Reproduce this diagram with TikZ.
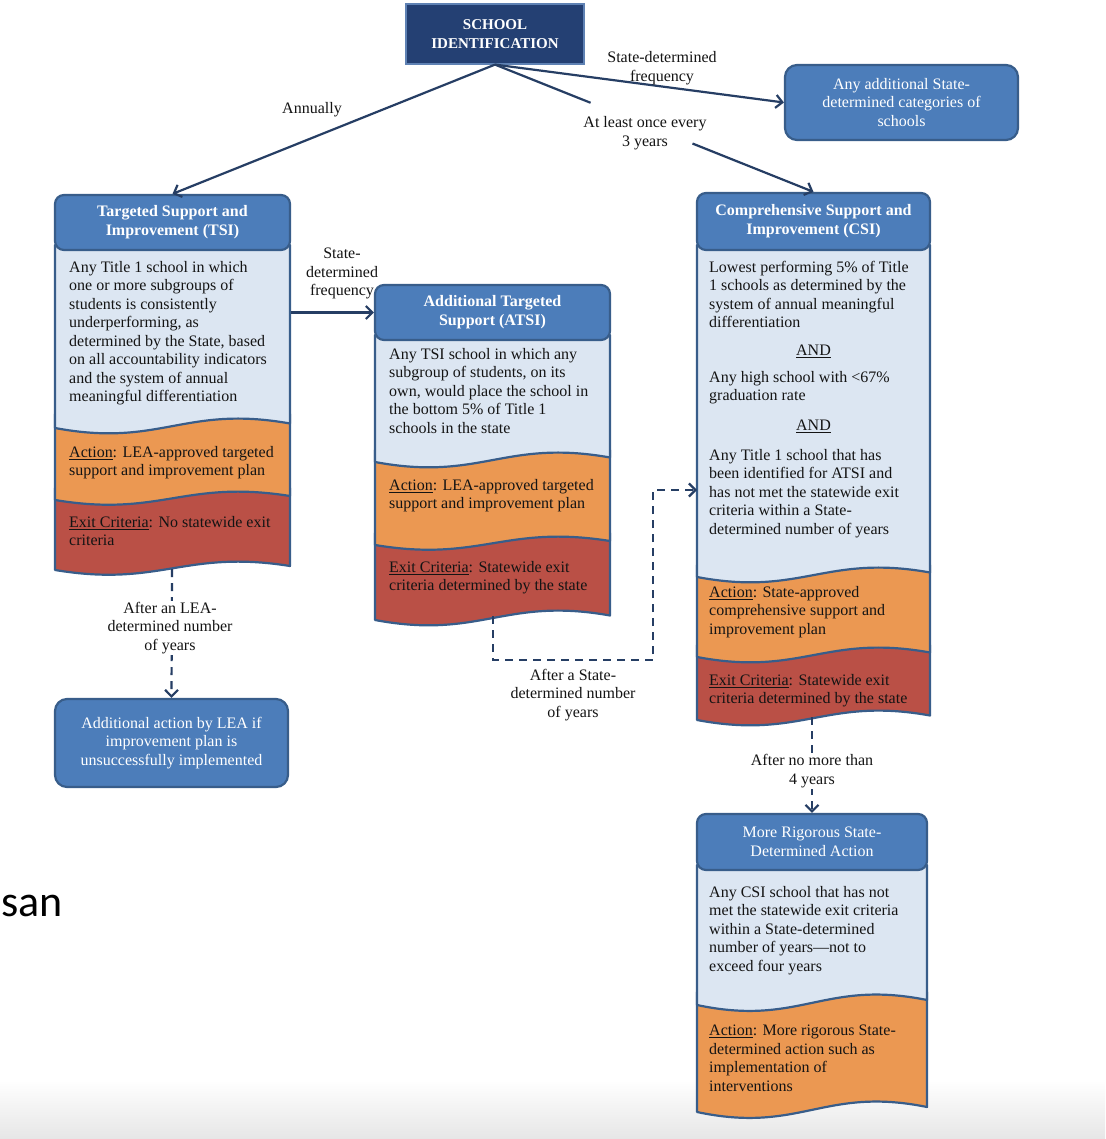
\documentclass[tikz,border=0pt]{standalone}
\usepackage{fontspec}
\setmainfont{Liberation Serif}
\newfontfamily\slidefont{Carlito}
\usetikzlibrary{arrows.meta,calc}

\definecolor{hdrblue}{RGB}{76,125,186}
\definecolor{edgeblue}{RGB}{56,93,138}
\definecolor{navybox}{RGB}{36,64,115}
\definecolor{navyedge}{RGB}{95,130,180}
\definecolor{bodyfill}{RGB}{220,230,242}
\definecolor{orangefill}{RGB}{235,152,82}
\definecolor{redfill}{RGB}{186,80,70}
\definecolor{linkcol}{RGB}{38,62,100}
\definecolor{txtcol}{RGB}{20,20,20}
\definecolor{shadegray}{RGB}{230,230,230}

\newcommand{\docshape}[6]{%
  \pgfmathsetmacro{\dw}{#2-#1}%
  \filldraw[secedge, fill=#6] (#1,#3) -- (#2,#3) -- (#2,{#4-0.5*#5})
    .. controls ({#1+0.55*\dw},{#4-2.6*#5}) and ({#1+0.45*\dw},{#4+2.2*#5}) .. (#1,#4) -- cycle;}

\tikzset{
  secedge/.style={draw=edgeblue, line width=2.2pt, line join=round},
  hdr/.style={draw=edgeblue, line width=2.2pt, fill=hdrblue, rounded corners=9pt, text=white,
    font=\bfseries\fontsize{16}{19}\selectfont, align=center, inner sep=0pt},
  bluebox/.style={draw=edgeblue, line width=2.2pt, fill=hdrblue, rounded corners=12pt, text=white,
    font=\fontsize{16}{18.7}\selectfont, align=center, inner sep=0pt},
  bodytxt/.style={anchor=north west, align=left, inner sep=0pt, text=txtcol,
    font=\fontsize{16}{18.5}\selectfont},
  andtxt/.style={anchor=north, align=center, inner sep=0pt, text=txtcol,
    font=\fontsize{16}{18.5}\selectfont},
  lbl/.style={align=center, inner sep=1.5pt, text=txtcol, font=\fontsize{16}{18.5}\selectfont},
  wlbl/.style={lbl, fill=white},
  link/.style={draw=linkcol, line width=2.2pt, -{Straight Barb[length=6.5pt,width=13pt]}},
  dlink/.style={link, dash pattern=on 8pt off 6pt},
}

\begin{document}
\begin{tikzpicture}[x=1pt,y=-1pt]
\useasboundingbox (0,0) rectangle (1105,1139);
\fill[white] (0,0) rectangle (1105,1139);
\shade[top color=white, bottom color=shadegray] (0,1080) rectangle (1105,1139);

% slide text fragment
\node[anchor=base west, inner sep=0pt, font=\slidefont\fontsize{44}{50}\selectfont] (slidefrag) at (1,916) {san};

% ---------- TSI column ----------
\docshape{55}{290}{488}{570}{8}{redfill}
\docshape{55}{290}{414}{500}{8}{orangefill}
\docshape{55}{290}{245}{428}{9}{bodyfill}
\node[hdr, minimum width=235, minimum height=55] (tsih) at (172.5,222.5) {Targeted Support and\\Improvement (TSI)};
\node[bodytxt] (tsibody) at (69,261) {Any Title 1 school in which\\one or more subgroups of\\students is consistently\\underperforming, as\\determined by the State, based\\on all accountability indicators\\and the system of annual\\meaningful differentiation};
\node[bodytxt] (tsiact) at (69,446) {\underline{Action}: LEA-approved targeted\\support and improvement plan};
\node[bodytxt] (tsiexit) at (69,516) {\underline{Exit Criteria}: No statewide exit\\criteria};
\coordinate (tsibot) at (172,569);

% ---------- ATSI column ----------
\docshape{375}{610}{533}{620}{9}{redfill}
\docshape{375}{610}{450}{545}{8}{orangefill}
\docshape{375}{610}{335}{462}{9}{bodyfill}
\node[hdr, minimum width=235, minimum height=55] (atsih) at (492.5,312.5) {Additional Targeted\\Support (ATSI)};
\node[bodytxt] (atsibody) at (389,348) {Any TSI school in which any\\subgroup of students, on its\\own, would place the school in\\the bottom 5\% of Title 1\\schools in the state};
\node[bodytxt] (atsiact) at (389,479) {\underline{Action}: LEA-approved targeted\\support and improvement plan};
\node[bodytxt] (atsiexit) at (389,561) {\underline{Exit Criteria}: Statewide exit\\criteria determined by the state};
\coordinate (atsibot) at (493,616);

% ---------- CSI column ----------
\docshape{697}{930}{645}{720}{9}{redfill}
\docshape{697}{930}{565}{657}{9}{orangefill}
\docshape{697}{930}{245}{577}{9}{bodyfill}
\node[hdr, minimum width=233, minimum height=57] (csih) at (813.5,221.5) {Comprehensive Support and\\Improvement (CSI)};
\node[bodytxt] (csib1) at (709,261) {Lowest performing 5\% of Title\\1 schools as determined by the\\system of annual meaningful\\differentiation};
\node[andtxt] (csiand1) at (813.5,345) {\underline{AND}};
\node[bodytxt] (csib2) at (709,371) {Any high school with <67\%\\graduation rate};
\node[andtxt] (csiand2) at (813.5,420) {\underline{AND}};
\node[bodytxt] (csib3) at (709,449) {Any Title 1 school that has\\been identified for ATSI and\\has not met the statewide exit\\criteria within a State-\\determined number of years};
\node[bodytxt] (csiact) at (709,586) {\underline{Action}: State-approved\\comprehensive support and\\improvement plan};
\node[bodytxt] (csiexit) at (709,674) {\underline{Exit Criteria}: Statewide exit\\criteria determined by the state};
\coordinate (csiin) at (697,490);
\coordinate (csibot) at (812,717);

% ---------- More rigorous column ----------
\docshape{697}{927}{992}{1112}{10}{orangefill}
\docshape{697}{927}{865}{1005}{10}{bodyfill}
\node[hdr, font=\fontsize{16}{19}\selectfont, minimum width=230, minimum height=56] (mrh) at (812,842) {More Rigorous State-\\Determined Action};
\node[bodytxt] (mrbody) at (709,886) {Any CSI school that has not\\met the statewide exit criteria\\within a State-determined\\number of years---not to\\exceed four years};
\node[bodytxt] (mract) at (709,1025) {\underline{Action}: More rigorous State-\\determined action such as\\implementation of\\interventions};

% ---------- other boxes ----------
\node[draw=navyedge, line width=1.2pt, fill=navybox, text=white, align=center, inner sep=0pt,
  font=\bfseries\fontsize{15}{19}\selectfont, minimum width=178, minimum height=60] (school) at (495,34) {SCHOOL\\IDENTIFICATION};
\node[bluebox, minimum width=233, minimum height=75] (addbox) at (901.5,102.5) {Any additional State-\\determined categories of\\schools};
\node[bluebox, minimum width=233, minimum height=88] (actbox) at (171.5,743) {Additional action by LEA if\\improvement plan is\\unsuccessfully implemented};

% ---------- connectors ----------
\draw[link] (school.south) -- (tsih.north);
\draw[link] (school.south) -- (addbox.west);
\draw[draw=linkcol, line width=2.2pt] (school.south) -- ($(school.south)!0.3!(csih.north)$);
\draw[link] ($(school.south)!0.62!(csih.north)$) -- (csih.north);
\draw[link] (tsih.east |- atsih.west) -- (atsih.west);
\draw[dlink] (tsibot) -- (actbox.north);
\coordinate (dturn) at (653,660);
\draw[dlink] (atsibot) |- (dturn) |- (csiin);
\draw[dlink] (csibot) -- (mrh.north);

% ---------- labels ----------
\node[lbl] (lannual) at (312,110) {Annually};
\node[lbl] (lstfreq) at (662,68) {State-determined\\frequency};
\node[lbl] (lthree) at (645,133) {At least once every\\3 years};
\node[lbl] (latsifreq) at (342,273.5) {State-\\determined\\frequency};
\node[wlbl] (llea) at (170,628) {After an LEA-\\determined number\\of years};
\node[lbl] (lstate) at (573,695) {After a State-\\determined number\\of years};
\node[wlbl] (lfour) at (812,771) {After no more than\\4 years};
\end{tikzpicture}
\end{document}
